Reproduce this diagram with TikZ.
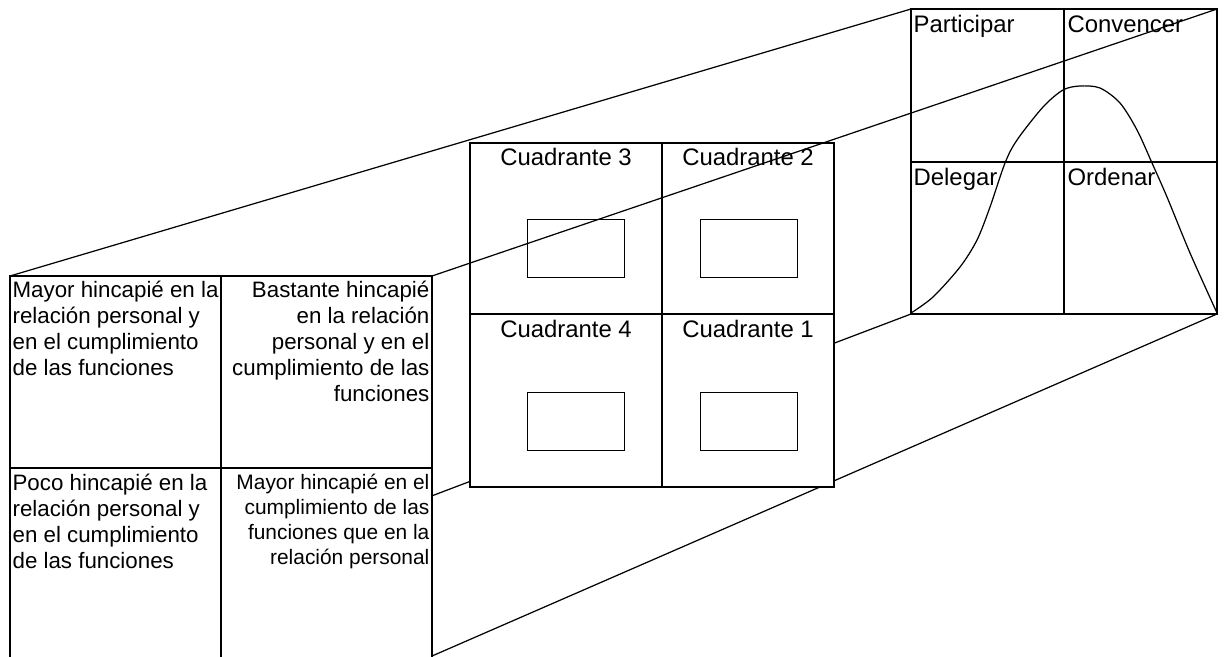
\documentclass[tikz,border=0pt]{standalone}
\usepackage{fontspec}
\setmainfont{Liberation Sans}
\newcommand{\grande}{\fontsize{13.6}{16}\selectfont}
\newcommand{\medio}{\fontsize{12.7}{14.7}\selectfont}
\newcommand{\chico}{\fontsize{11.9}{14.2}\selectfont}

\begin{document}
\begin{tikzpicture}[x=0.02cm, y=-0.02cm, line width=0.7pt,
	txtizq/.style={inner sep=0pt, anchor=base west, align=left, font=\medio},
	txtder/.style={inner sep=0pt, anchor=base east, align=right, font=\medio},
	cuad/.style={inner sep=0pt, anchor=base, font=\grande},
	estilo/.style={inner sep=0pt, anchor=base west, font=\grande},
	caja/.style={draw, fill=white}]
	\useasboundingbox (0, 0) rectangle (1226, 656);
	\clip (0, 0) rectangle (1226, 656);
	% esquinas de las cajas
	\coordinate (izqNO) at (10, 276);
	\coordinate (izqNE) at (432, 276);
	\coordinate (izqSO) at (10, 656);
	\coordinate (izqSE) at (432, 656);
	\coordinate (derNO) at (911, 9);
	\coordinate (derNE) at (1217, 9);
	\coordinate (derSO) at (911, 314);
	\coordinate (derSE) at (1217, 314);
	% lineas de fuga ocultas
	\draw (izqSO) -- (derSO);
	\draw (izqSE) -- (derSE);
	% caja izquierda
	\filldraw[caja] (izqNO) rectangle (432, 664);
	\draw (221, 276) -- (221, 664);
	\draw (10, 468) -- (432, 468);
	% cuadrantes
	\filldraw[caja] (470, 143) rectangle (834, 487);
	\draw (662, 143) -- (662, 487);
	\draw (470, 314) -- (834, 314);
	\foreach \x in {527, 700}
		\foreach \y in {219, 392}
			\draw[line width=0.55pt] (\x, \y) rectangle ++(97, 58);
	% caja derecha
	\draw (derNO) rectangle (derSE);
	\draw (1064, 9) -- (1064, 314);
	\draw (911, 162) -- (1217, 162);
	\draw plot[smooth] coordinates {(911,313) (933,297) (960,267) (977,240) (990,207) (1005,163) (1017,140) (1043,107) (1063,90) (1080,86) (1100,88) (1120,103) (1137,130) (1152,163) (1167,197) (1190,253) (1217,313)};
	% lineas de fuga visibles
	\draw (izqNO) -- (derNO);
	\draw (izqNE) -- (derNE);
	% textos (base = ultima linea)
	\node[txtizq] (mayor) at (12, 375) {Mayor hincapié en la\\relación personal y\\en el cumplimiento\\de las funciones};
	\node[txtder] (bastante) at (430, 401) {Bastante hincapié\\en la relación\\personal y en el\\cumplimiento de las\\funciones};
	\node[txtizq] (poco) at (12, 568) {Poco hincapié en la\\relación personal y\\en el cumplimiento\\de las funciones};
	\node[txtder, font=\chico] (funciones) at (430, 564) {Mayor hincapié en el\\cumplimiento de las\\funciones que en la\\relación personal};
	\node[cuad] (c3) at (566, 165) {Cuadrante 3};
	\node[cuad] (c2) at (748, 165) {Cuadrante 2};
	\node[cuad] (c4) at (566, 337) {Cuadrante 4};
	\node[cuad] (c1) at (748, 337) {Cuadrante 1};
	\node[estilo] (participar) at (913, 32) {Participar};
	\node[estilo] (convencer) at (1067, 32) {Convencer};
	\node[estilo] (delegar) at (913, 185) {Delegar};
	\node[estilo] (ordenar) at (1067, 185) {Ordenar};
\end{tikzpicture}
\end{document}
